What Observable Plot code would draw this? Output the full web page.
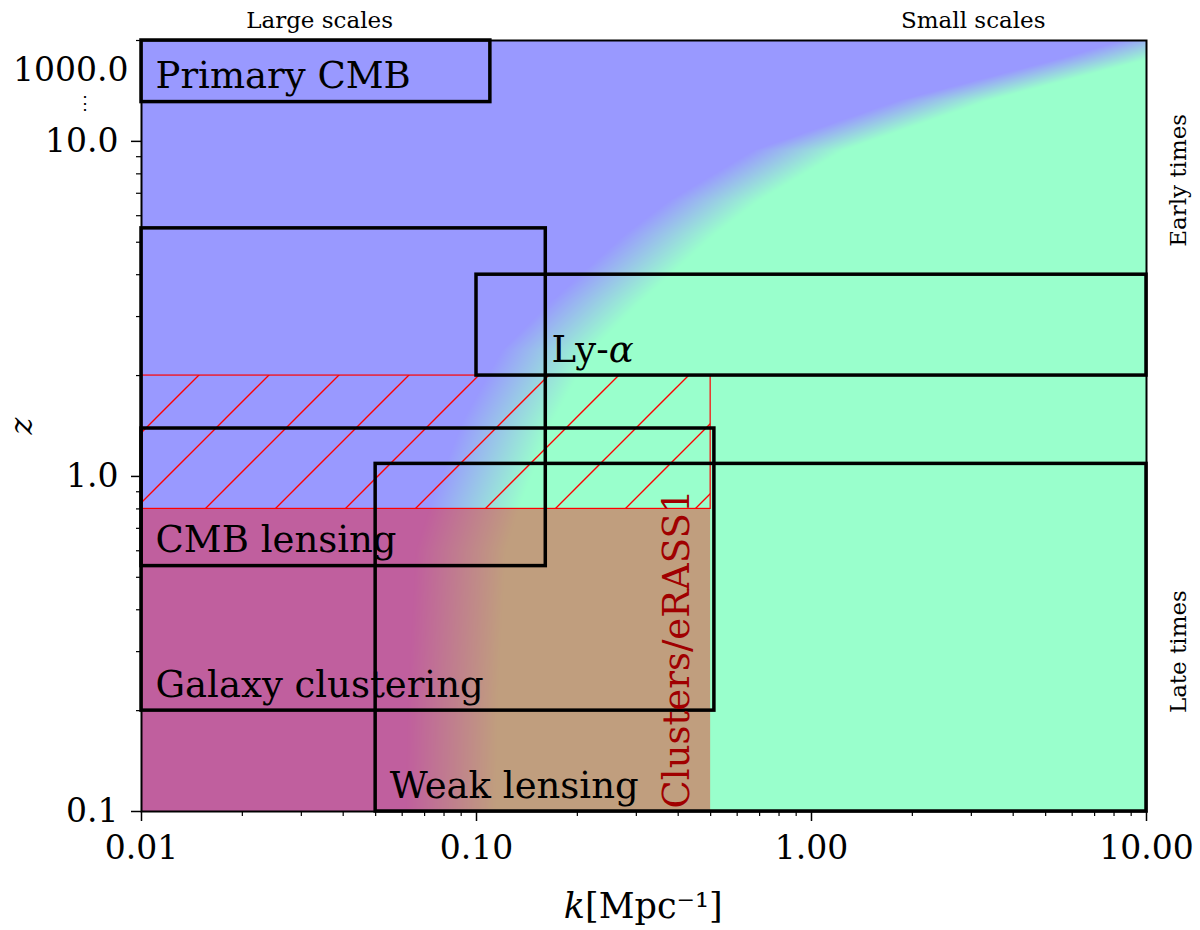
<!DOCTYPE html>
<html>
<head>
<meta charset="utf-8">
<script src="https://cdn.jsdelivr.net/npm/d3@7"></script>
<script src="https://cdn.jsdelivr.net/npm/@observablehq/plot@0.6"></script>
<style>
  html, body { margin: 0; padding: 0; background: #ffffff; }
  svg { display: block; }
</style>
</head>
<body>
<div id="chart"></div>
<script>
// ---- data ----
const surveys = ["Primary CMB", "CMB lensing", "Ly-α", "Galaxy clustering", "Weak lensing"];
const surveyKMin = [0.01, 0.01, 0.1, 0.01, 0.05];
const surveyKMax = [0.11, 0.161, 10, 0.513, 10];
const surveyZMin = [13.1, 0.54, 2.0, 0.2, 0.1];
const surveyZMax = [20, 5.5, 4.0, 1.39, 1.09];
const labelK = [0.01, 0.01, 0.152, 0.01, 0.05];
const labelZ = [13.1, 0.54, 2.0, 0.2, 0.1];

const clusterName = "Clusters/eRASS1";
const clusterK = [0.01, 0.5];
const clusterZNow = [0.1, 0.8];
const clusterZFuture = [0.8, 2.0];

// blue (linear) / green (non-linear) transition boundary
const boundaryZ = [0.1, 0.214, 0.601, 0.848, 1.47, 2.38, 3.35, 5.31, 6.67, 9.4, 13.3, 17.5, 20];
const boundaryK = [0.0835, 0.0847, 0.0895, 0.100, 0.124, 0.162, 0.229, 0.380, 0.513, 0.912, 2.51, 7.24, 11.5];

const xMajor = [0.01, 0.1, 1, 10];
const xMinor = [0.02,0.03,0.04,0.05,0.06,0.07,0.08,0.09,0.2,0.3,0.4,0.5,0.6,0.7,0.8,0.9,2,3,4,5,6,7,8,9];
const yMajor = [0.1, 1, 10];
const yMinor = [0.2,0.3,0.4,0.5,0.6,0.7,0.8,0.9,2,3,4,5,6,7,8,9,20];
const topBreakLabel = "1000.0";

const topLabels = ["Large scales", "Small scales"];
const topLabelK = [0.034, 3.04];
const sideLabels = ["Early times", "Late times"];
const sideLabelZ = [7.65, 0.30];

// ---- colour field ----
const boundaryScale = d3.scaleLinear()
  .domain(boundaryZ.map(Math.log10))
  .range(boundaryK.map(Math.log10));
const rampWidth = 0.27;
const field = (k, z) => {
  const lb = boundaryScale(Math.log10(z));
  const t = (Math.log10(k) - lb) / rampWidth + 0.5;
  return Math.max(0, Math.min(1, t));
};

const idx = d3.range(surveys.length);
const font = "DejaVu Serif";

const chart = Plot.plot({
  width: 1200,
  height: 930,
  marginLeft: 141,
  marginRight: 54,
  marginTop: 40,
  marginBottom: 119,
  style: { fontFamily: font, fontSize: "33px", background: "#ffffff", color: "black" },
  x: { type: "log", domain: [0.01, 10], axis: null },
  y: { type: "log", domain: [0.1, 20], axis: null },
  color: { type: "linear", domain: [0, 1], range: ["#9999ff", "#99ffcc"], interpolate: "rgb" },
  marks: [
    Plot.raster({ x1: 0.01, x2: 10, y1: 0.1, y2: 20, fill: field, pixelSize: 1 }),
    Plot.rect([0], { x1: clusterK[0], x2: clusterK[1], y1: clusterZNow[0], y2: clusterZNow[1], fill: "#ff0000", fillOpacity: 0.38 }),
    Plot.rect([0], { x1: clusterK[0], x2: clusterK[1], y1: clusterZFuture[0], y2: clusterZFuture[1], fill: "url(#hatch)", stroke: "#ff0000", strokeWidth: 1.2 }),
    Plot.rect(idx, {
      x1: i => surveyKMin[i], x2: i => surveyKMax[i],
      y1: i => surveyZMin[i], y2: i => surveyZMax[i],
      fill: "none", stroke: "black", strokeWidth: 3.5
    }),
    Plot.text(idx, {
      x: i => labelK[i], y: i => labelZ[i], text: i => surveys[i],
      dx: 14, dy: -14, textAnchor: "start", lineAnchor: "bottom",
      fontSize: 37, fill: "black"
    }),
    Plot.text([clusterName], {
      x: clusterK[1], y: clusterZNow[0], dx: -22, dy: -3, rotate: -90,
      textAnchor: "start", lineAnchor: "bottom", fontSize: 37, fill: "#a00000"
    }),
    Plot.frame({ stroke: "black", strokeWidth: 2 }),
    // axes
    Plot.axisX({ ticks: xMajor, tickFormat: ".2f", tickSize: 10, tickPadding: 14, fontSize: 33, strokeWidth: 1.5, label: null }),
    Plot.axisX({ ticks: xMinor, tickFormat: () => "", tickSize: 5, strokeWidth: 1.2, label: null }),
    Plot.axisY({ ticks: yMajor, tickFormat: ".1f", tickSize: 10, tickPadding: 13, fontSize: 33, strokeWidth: 1.5, label: null }),
    Plot.axisY({ ticks: yMinor, tickFormat: () => "", tickSize: 5, strokeWidth: 1.2, label: null }),
    Plot.text([topBreakLabel], { frameAnchor: "top-left", dx: -13, dy: 30, textAnchor: "end", lineAnchor: "middle", fontSize: 33 }),
    Plot.text(["⋮"], { frameAnchor: "top-left", dx: -57, dy: 63, textAnchor: "middle", lineAnchor: "middle", fontSize: 18 }),
    // axis labels
    Plot.text(["k"], { frameAnchor: "bottom", dx: -59, dy: 106, textAnchor: "end", lineAnchor: "bottom", fontSize: 35, fontStyle: "italic" }),
    Plot.text(["[Mpc⁻¹]"], { frameAnchor: "bottom", dx: -59, dy: 106, textAnchor: "start", lineAnchor: "bottom", fontSize: 35 }),
    Plot.text(["z"], { frameAnchor: "left", dx: -120, rotate: -90, textAnchor: "middle", lineAnchor: "middle", fontSize: 32, fontStyle: "italic" }),
    // annotations
    Plot.text(topLabels, { x: (d, i) => topLabelK[i], frameAnchor: "top", dy: -13, textAnchor: "middle", lineAnchor: "bottom", fontSize: 23 }),
    Plot.text(sideLabels, { y: (d, i) => sideLabelZ[i], frameAnchor: "right", dx: 39, rotate: -90, textAnchor: "middle", lineAnchor: "bottom", fontSize: 23 })
  ]
});

// hatch pattern for the future-clusters region
const defs = d3.select(chart).insert("defs", ":first-child");
const pat = defs.append("pattern")
  .attr("id", "hatch")
  .attr("patternUnits", "userSpaceOnUse")
  .attr("x", 14).attr("y", 0)
  .attr("width", 70).attr("height", 70);
pat.append("path")
  .attr("d", "M-10,10L10,-10M0,70L70,0M60,80L80,60")
  .attr("stroke", "#ff0000")
  .attr("stroke-width", 1.4)
  .attr("fill", "none");

// italic alpha in the Ly-α label (math style)
d3.select(chart).selectAll("text").each(function () {
  if (this.textContent === "Ly-α") {
    this.textContent = "Ly-";
    d3.select(this).append("tspan").attr("font-style", "italic").text("α");
  }
});

document.getElementById("chart").appendChild(chart);
</script>
</body>
</html>
